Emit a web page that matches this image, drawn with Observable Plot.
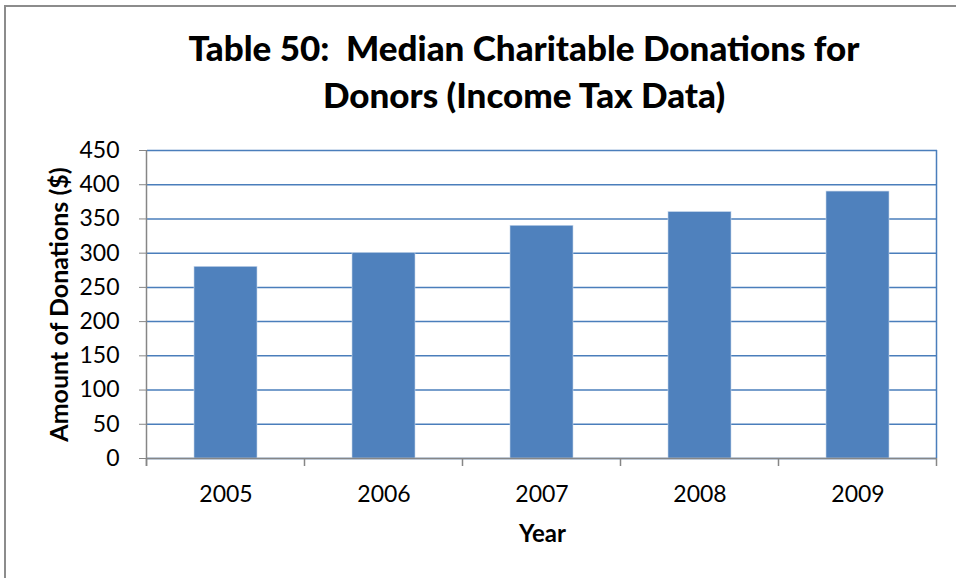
<!DOCTYPE html>
<html>
<head>
<meta charset="utf-8">
<script src="https://cdn.jsdelivr.net/npm/d3@7"></script>
<script src="https://cdn.jsdelivr.net/npm/@observablehq/plot@0.6"></script>
<style>
  html, body { margin: 0; padding: 0; background: #fff; }
  body { width: 956px; height: 578px; overflow: hidden; position: relative; font-family: Lato, "Open Sans", sans-serif; }
  #border { position: absolute; left: 4px; top: 5px; width: 1000px; height: 1000px; border: 2px solid #8c8c8c; box-sizing: border-box; pointer-events: none; }
  #title { box-sizing: border-box; width: 956px; height: 130px; padding-left: 92px; padding-top: 24px; text-align: center; font-weight: 900; font-size: 35px; line-height: 47px; color: #000; }
  #chart svg { display: block; }
</style>
</head>
<body>
<div id="border"></div>
<div id="title">Table 50:&nbsp; Median Charitable Donations for<br>Donors (Income Tax Data)</div>
<div id="chart"></div>
<script>
const years = ["2005", "2006", "2007", "2008", "2009"];
const donations = [280, 300, 340, 360, 390];
const yTicks = [0, 50, 100, 150, 200, 250, 300, 350, 400, 450];
const yLabel = "Amount of Donations ($)";
const xLabel = "Year";

const data = years.map((y, i) => ({year: y, value: donations[i]}));

const chart = Plot.plot({
  width: 956,
  height: 448,
  marginTop: 20,
  marginBottom: 120,
  marginLeft: 147,
  marginRight: 19,
  style: {fontFamily: "Lato, 'Open Sans', sans-serif", fontSize: "23px", color: "#000", background: "transparent", overflow: "visible"},
  x: {domain: years, paddingInner: 0.6, paddingOuter: 0.3, label: null},
  y: {domain: [0, 450], label: null},
  marks: [
    Plot.gridY(yTicks, {stroke: "#4a7ebb", strokeOpacity: 1, strokeWidth: 1.5}),
    Plot.barY(data, {x: "year", y: "value", fill: "#4f81bd", stroke: "#c6d6ea", strokeWidth: 0.6}),
    Plot.axisY(yTicks, {tickSize: 8, tickPadding: 20, stroke: "#868686", fill: "#000", fontSize: 23, label: null}),
    Plot.axisX({tickSize: 0, tickPadding: 27, fill: "#000", fontSize: 23, label: null}),
    Plot.ruleY([0], {stroke: "#868686", strokeWidth: 1.5}),
    Plot.text([yLabel], {frameAnchor: "left", textAnchor: "middle", rotate: -90, dx: -88, fontWeight: "bold", fontSize: 25, fill: "#000"}),
    Plot.text([xLabel], {frameAnchor: "bottom", lineAnchor: "middle", dy: 76, fontWeight: "bold", fontSize: 24, fill: "#000"})
  ]
});
document.getElementById("chart").appendChild(chart);

// category boundary ticks, left axis line and right border using the Plot scales
const xs = chart.scale("x");
const ys = chart.scale("y");
const svg = d3.select(chart);
const gap = (xs.step - xs.bandwidth) / 2;
const bounds = years.map(y => xs.apply(y) - gap);
bounds.push(xs.apply(years[years.length - 1]) + xs.bandwidth + gap);
const y0 = ys.apply(0), yTop = ys.apply(450);
const g = svg.append("g");
g.selectAll("line.tick").data(bounds).join("line")
  .attr("x1", d => d).attr("x2", d => d)
  .attr("y1", y0).attr("y2", y0 + 8)
  .attr("stroke", "#868686").attr("stroke-width", 1.5);
g.append("line")
  .attr("x1", bounds[bounds.length - 1]).attr("x2", bounds[bounds.length - 1])
  .attr("y1", yTop).attr("y2", y0)
  .attr("stroke", "#4a7ebb").attr("stroke-width", 1.5);
g.append("line")
  .attr("x1", bounds[0]).attr("x2", bounds[0])
  .attr("y1", yTop).attr("y2", y0 + 8)
  .attr("stroke", "#868686").attr("stroke-width", 1.5);
</script>
</body>
</html>
